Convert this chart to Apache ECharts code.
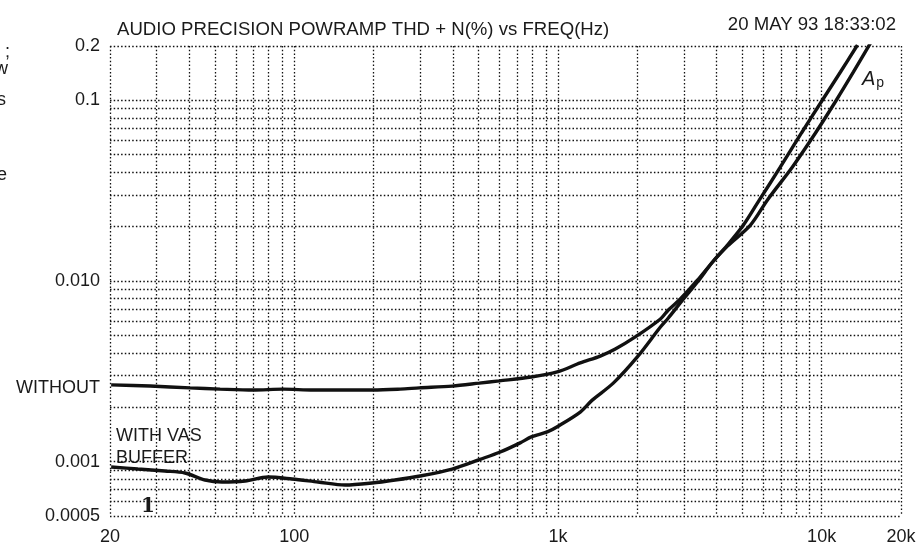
<!DOCTYPE html>
<html lang="en">
<head>
<meta charset="UTF-8">
<title>THD+N vs frequency</title>
<script src="https://cdn.jsdelivr.net/npm/echarts@6/dist/echarts.min.js"></script>
<style>
html, body { margin: 0; padding: 0; background: #fff; }
#chart { width: 923px; height: 550px; }
</style>
</head>
<body>
<div id="chart"></div>
<script>
// THD+N (%) readings, WITHOUT buffer
var freqWithout = [20.2, 28.4, 40.2, 52.3, 69.8, 90.7, 118, 149, 199, 252, 298, 397, 503, 599, 792, 994,
                   1215, 1447, 1650, 1965, 2447, 2622, 2911, 3380, 3852, 4392, 5370, 6230, 7748, 9476, 11382, 13204, 15324];
var thdWithout  = [0.00266, 0.00262, 0.00256, 0.00252, 0.00249, 0.00252, 0.00249, 0.00249, 0.00249, 0.00252, 0.00256, 0.00262, 0.00272, 0.00280, 0.00294, 0.00314,
                   0.00352, 0.00384, 0.00420, 0.00490, 0.00616, 0.00691, 0.00795, 0.0101, 0.0127, 0.0156, 0.0204, 0.0281, 0.0428, 0.0660, 0.1005, 0.1436, 0.2077];

// THD+N (%) readings, WITH VAS buffer
var freqWith = [20.2, 25.5, 32.3, 38.5, 45.9, 53.2, 65.1, 79.5, 98.1, 123, 156, 197, 241, 300, 397, 507, 604, 719, 792, 911, 994,
                1215, 1349, 1621, 2000, 2447, 2622, 2911, 3380, 3852, 4392, 5052, 5808, 6978, 8386, 10074, 11786, 13674];
var thdWith  = [0.000934, 0.000910, 0.000887, 0.000865, 0.000791, 0.000771, 0.000781, 0.000822, 0.000801, 0.000771, 0.000742, 0.000761, 0.000791, 0.000833, 0.000910, 0.00103, 0.00113, 0.00127, 0.00137, 0.00146, 0.00156,
                0.00188, 0.00219, 0.00272, 0.00380, 0.00556, 0.00624, 0.00756, 0.00987, 0.0127, 0.0158, 0.0204, 0.0281, 0.0428, 0.0660, 0.1005, 0.1436, 0.2025];

var xLabelValues = [20, 100, 1000, 10000, 20000];
var xLabelTexts  = ['20', '100', '1k', '10k', '20k'];
var yLabelValues = [0.0005, 0.001, 0.00256, 0.01, 0.1, 0.2];
var yLabelTexts  = ['0.0005', '0.001', 'WITHOUT', '0.010', '0.1', '0.2'];

var xGridValues = [20, 30, 40, 50, 60, 70, 80, 90,
                   100, 200, 300, 400, 500, 600, 700, 800, 900,
                   1000, 2000, 3000, 4000, 5000, 6000, 7000, 8000, 9000,
                   10000, 20000];
var yGridValues = [0.0005, 0.0006, 0.0007, 0.0008, 0.0009,
                   0.001, 0.002, 0.003, 0.004, 0.005, 0.006, 0.007, 0.008, 0.009,
                   0.01, 0.02, 0.03, 0.04, 0.05, 0.06, 0.07, 0.08, 0.09,
                   0.1, 0.2];

function pairs(xs, ys) {
    return xs.map(function (x, i) { return [x, ys[i]]; });
}
function labelFor(values, texts) {
    return function (v) {
        for (var i = 0; i < values.length; i++) {
            if (Math.abs(v - values[i]) / values[i] < 0.01) return texts[i];
        }
        return '';
    };
}

var font = 'Liberation Sans, Arial, sans-serif';
var ink = '#1a1a1a';
var dotted = { color: '#111', width: 1.3, type: [1.5, 2.2] };
var curve = { color: '#111', width: 3.4 };

var chart = echarts.init(document.getElementById('chart'));
chart.setOption({
    animation: false,
    backgroundColor: '#fff',
    title: [
        { text: 'AUDIO PRECISION POWRAMP THD + N(%) vs FREQ(Hz)', left: 112, top: 15,
          textStyle: { fontFamily: font, fontSize: 18.6, fontWeight: 'normal', color: ink } },
        { text: '20 MAY 93 18:33:02', right: 22, top: 10,
          textStyle: { fontFamily: font, fontSize: 18.6, fontWeight: 'normal', color: ink } }
    ],
    grid: { left: 110, right: 22, top: 46, bottom: 34 },
    xAxis: {
        type: 'log', logBase: 10, min: 20, max: 20000,
        axisLine: { show: false },
        axisTick: { show: false, customValues: xGridValues },
        axisLabel: { customValues: xLabelValues, formatter: labelFor(xLabelValues, xLabelTexts),
                     fontFamily: font, fontSize: 18, color: ink, margin: 12 },
        splitLine: { show: true, lineStyle: dotted }
    },
    yAxis: {
        type: 'log', logBase: 10, min: 0.0005, max: 0.2,
        axisLine: { show: false },
        axisTick: { show: false, customValues: yGridValues },
        axisLabel: { customValues: yLabelValues, formatter: labelFor(yLabelValues, yLabelTexts),
                     fontFamily: font, fontSize: 18, color: ink, margin: 10 },
        splitLine: { show: true, lineStyle: dotted }
    },
    series: [
        { name: 'WITHOUT', type: 'line', data: pairs(freqWithout, thdWithout),
          symbol: 'none', smooth: 0.3, clip: true, lineStyle: curve },
        { name: 'WITH VAS BUFFER', type: 'line', data: pairs(freqWith, thdWith),
          symbol: 'none', smooth: 0.3, clip: true, lineStyle: curve }
    ],
    graphic: [
        { type: 'text', left: 116, top: 425,
          style: { text: 'WITH VAS\nBUFFER', fontFamily: font, fontSize: 18, lineHeight: 22, fill: ink } },
        { type: 'text', left: 862, top: 69,
          style: { text: '{a|A}{p|p}', fontFamily: font, fill: ink,
                   rich: { a: { fontSize: 20, fontStyle: 'italic', fontFamily: font, padding: [0, 1, 0, 0] },
                           p: { fontSize: 14, fontFamily: font, padding: [8, 0, 0, 0] } } } },
        { type: 'text', left: 141, top: 497,
          style: { text: '1', fontFamily: 'DejaVu Serif', fontWeight: 'bold', fontSize: 20, fill: ink } },
        // word fragments cut off at the left edge of the scan
        { type: 'text', x: 10, y: 52, style: { text: ';', align: 'right', verticalAlign: 'middle', fontFamily: font, fontSize: 18, fill: ink } },
        { type: 'text', x: 8, y: 69, style: { text: 'w', align: 'right', verticalAlign: 'middle', fontFamily: font, fontSize: 18, fill: ink } },
        { type: 'text', x: 6, y: 100, style: { text: 's', align: 'right', verticalAlign: 'middle', fontFamily: font, fontSize: 18, fill: ink } },
        { type: 'text', x: 7, y: 175, style: { text: 'e', align: 'right', verticalAlign: 'middle', fontFamily: font, fontSize: 18, fill: ink } }
    ]
});
</script>
</body>
</html>
